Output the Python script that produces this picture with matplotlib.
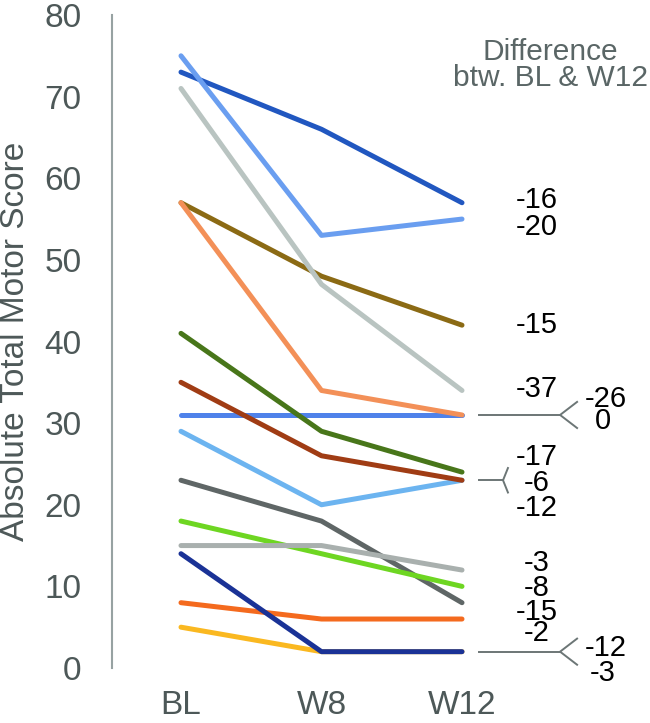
from __future__ import annotations

import matplotlib

matplotlib.use("Agg")
import matplotlib.pyplot as plt


VISITS = ["BL", "W8", "W12"]

# one list per patient: scores at BL, W8, W12 (drawing order = stacking order)
DARK_BLUE = [73, 66, 57]
LIGHT_BLUE = [75, 53, 55]
OLIVE = [57, 48, 42]
PALE_GRAY = [71, 47, 34]
MID_BLUE = [31, 31, 31]
SALMON = [57, 34, 31]
GREEN = [41, 29, 24]
SKY_BLUE = [29, 20, 23]
RUST = [35, 26, 23]
DARK_GRAY = [23, 18, 8]
LIME = [18, 14, 10]
GRAY = [15, 15, 12]
YELLOW = [5, 2, 2]
ORANGE = [8, 6, 6]
NAVY = [14, 2, 2]

SERIES = [DARK_BLUE, LIGHT_BLUE, OLIVE, PALE_GRAY, MID_BLUE, SALMON, GREEN,
          SKY_BLUE, RUST, DARK_GRAY, LIME, GRAY, YELLOW, ORANGE, NAVY]
COLORS = ["#2157c0", "#6a9ef0", "#8b6a14", "#b9c4c1", "#4f82ea", "#f39058",
          "#48761a", "#6cb4f0", "#a03c14", "#5f6666", "#6ed622", "#a9b0ae",
          "#fab820", "#f46a1e", "#1a3296"]

# where each difference label sits: (x in category units, y in score units)
LABEL_POS = [(2.53, 57.3), (2.53, 54.0), (2.53, 42.0), (2.53, 34.2),
             (3.0, 30.2), (3.02, 33.0), (2.53, 25.8), (2.53, 22.7),
             (2.53, 19.6), (2.53, 6.9), (2.53, 9.8), (2.53, 12.9),
             (3.0, -0.6), (2.53, 4.3), (3.02, 2.5)]

TICK_COLOR = "#4d5858"
LINE_GRAY = "#6c7676"

plt.rcParams["font.family"] = ["Liberation Sans", "DejaVu Sans"]


def draw_bracket(ax, y, x_end=2.698, x_tip=2.819, spread=1.6, x_start=2.121):
    ax.plot([x_start, x_end], [y, y], color=LINE_GRAY, lw=1.4, clip_on=False)
    ax.plot([x_tip, x_end, x_tip], [y + spread, y, y - spread],
            color=LINE_GRAY, lw=1.4, clip_on=False)


def main() -> None:
    fig = plt.figure(figsize=(6.5, 7.23), dpi=100)
    ax = fig.add_axes([112 / 650, 55 / 723, 538 / 650, 653 / 723])

    x = list(range(len(VISITS)))
    for values, color in zip(SERIES, COLORS):
        ax.plot(x, values, color=color, lw=3.6, solid_capstyle="round",
                solid_joinstyle="round", clip_on=False)

    for values, (lx, ly) in zip(SERIES, LABEL_POS):
        ax.text(lx, ly, f"{values[-1] - values[0]}", ha="center", va="center",
                fontsize=21, color="black")

    draw_bracket(ax, 31)
    draw_bracket(ax, 2)
    draw_bracket(ax, 23, x_end=2.292, x_tip=2.327, spread=1.5)

    ax.text(2.63, 73.9, "Difference\nbtw. BL & W12", ha="center", va="center",
            fontsize=21.5, color="#5a6666", linespacing=0.93)

    ax.set_xlim(-0.491, 3.338)
    ax.set_ylim(0, 80)
    ax.set_xticks(x)
    ax.set_xticklabels(VISITS)
    ax.set_yticks(range(0, 81, 10))
    ax.tick_params(axis="both", length=0, labelsize=24, colors=TICK_COLOR)
    ax.tick_params(axis="y", pad=22)
    ax.tick_params(axis="x", pad=16)

    for side in ("top", "right", "bottom"):
        ax.spines[side].set_visible(False)
    ax.spines["left"].set_color("#97a2a2")
    ax.spines["left"].set_linewidth(1.5)

    ax.set_ylabel("Absolute Total Motor Score", fontsize=24, color=TICK_COLOR)
    ax.yaxis.set_label_coords(-0.15, 0.5)

    fig.savefig("out.png", dpi=100)
    plt.close(fig)


if __name__ == "__main__":
    main()
